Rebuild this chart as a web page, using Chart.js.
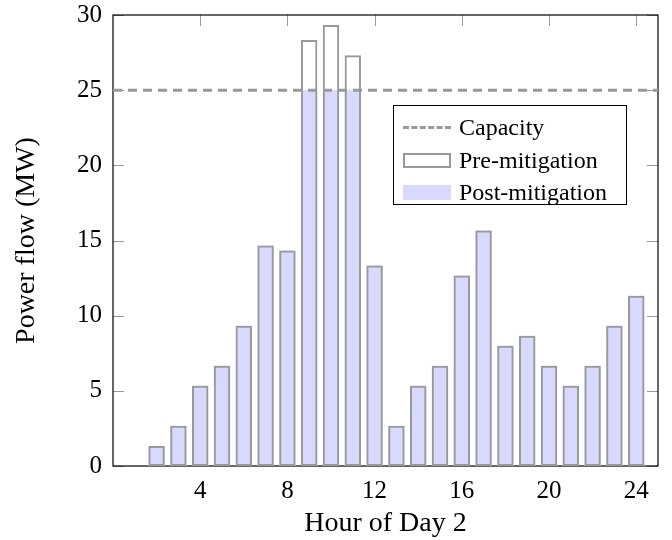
<!DOCTYPE html>
<html>
<head>
<meta charset="utf-8">
<script src="https://cdn.jsdelivr.net/npm/chart.js@4/dist/chart.umd.min.js"></script>
<style>
  html, body { margin: 0; padding: 0; background: #fff; }
  #wrap { position: relative; width: 672px; height: 540px; }
  #legend {
    position: absolute; left: 393px; top: 105px; width: 232px; height: 98px;
    border: 1px solid #000; background: #fff;
    font-family: "Liberation Serif", serif; font-size: 24px; color: #000;
  }
  .row { position: absolute; left: 9px; height: 30px; display: flex; align-items: center; }
  .row span { margin-left: 8px; }
  .dash { width: 48px; height: 0; border-top: 3px dashed #999; }
  .outline { width: 44px; height: 11px; border: 2px solid #999; }
  .fill { width: 48px; height: 15px; background: #d9d9ff; }
</style>
</head>
<body>
<div id="wrap">
  <canvas id="flowChart" width="672" height="540"></canvas>
  <div id="legend">
    <div class="row" style="top:6px"><div class="dash"></div><span>Capacity</span></div>
    <div class="row" style="top:39px"><div class="outline"></div><span>Pre-mitigation</span></div>
    <div class="row" style="top:71px"><div class="fill"></div><span>Post-mitigation</span></div>
  </div>
</div>
<script>
// Hours of day 2
const hours = [1, 2, 3, 4, 5, 6, 7, 8, 9, 10, 11, 12, 13, 14, 15, 16, 17, 18, 19, 20, 21, 22, 23, 24];

// Power flow in MW before and after mitigation
const preMitigation = [0, 1.33, 2.67, 5.33, 6.67, 9.33, 14.67, 14.33, 28.33, 29.33, 27.33, 13.33,
    2.67, 5.33, 6.67, 12.67, 15.67, 8, 8.67, 6.67, 5.33, 6.67, 9.33, 11.33];
const postMitigation = [0, 1.33, 2.67, 5.33, 6.67, 9.33, 14.67, 14.33, 25, 25, 25, 13.33,
    2.67, 5.33, 6.67, 12.67, 15.67, 8, 8.67, 6.67, 5.33, 6.67, 9.33, 11.33];

// Line capacity
const capacity = 25;
const capacityRange = [0, 25];

// Tick labels
const xTicks = [4, 8, 12, 16, 20, 24];
const yTicks = [0, 5, 10, 15, 20, 25, 30];

const serif = '"Liberation Serif", "Times New Roman", serif';

// Box round the plot and small inward ticks on all four sides
const frame = {
    id: 'frame',
    beforeDatasetsDraw(chart) {
        const { ctx, chartArea: a, scales } = chart;
        ctx.save();
        ctx.strokeStyle = '#999';
        ctx.lineWidth = 1;
        yTicks.forEach(function (v) {
            const y = Math.round(scales.y.getPixelForValue(v)) + 0.5;
            ctx.beginPath();
            ctx.moveTo(a.left, y); ctx.lineTo(a.left + 11, y);
            ctx.moveTo(a.right, y); ctx.lineTo(a.right - 11, y);
            ctx.stroke();
        });
        xTicks.forEach(function (v) {
            const x = Math.round(scales.x.getPixelForValue(v)) + 0.5;
            ctx.beginPath();
            ctx.moveTo(x, a.top); ctx.lineTo(x, a.top + 11);
            ctx.moveTo(x, a.bottom); ctx.lineTo(x, a.bottom - 11);
            ctx.stroke();
        });
        ctx.strokeStyle = '#000';
        ctx.lineWidth = 1.2;
        ctx.strokeRect(a.left, a.top, a.right - a.left, a.bottom - a.top);
        ctx.restore();
    }
};

function createFlowChart() {
    const ctx = document.getElementById('flowChart').getContext('2d');
    new Chart(ctx, {
        data: {
            datasets: [
                {
                    type: 'line',
                    label: 'Capacity',
                    data: capacityRange.map(function (x) { return { x: x, y: capacity }; }),
                    borderColor: '#999',
                    borderWidth: 3,
                    borderDash: [9, 6],
                    pointRadius: 0,
                    order: 0,
                },
                {
                    type: 'bar',
                    label: 'Pre-mitigation',
                    data: hours.map(function (h, i) { return { x: h, y: preMitigation[i] }; }),
                    backgroundColor: 'rgba(0,0,0,0)',
                    borderColor: '#999',
                    borderWidth: 2,
                    borderSkipped: false,
                    order: 1,
                },
                {
                    type: 'bar',
                    label: 'Post-mitigation',
                    data: hours.map(function (h, i) { return { x: h, y: postMitigation[i] }; }),
                    backgroundColor: '#d9d9ff',
                    borderWidth: 0,
                    order: 2,
                },
            ],
        },
        options: {
            responsive: false,
            animation: false,
            layout: { padding: { top: 15, right: 14, left: 0, bottom: 0 } },
            datasets: {
                bar: { grouped: false, barPercentage: 0.75, categoryPercentage: 1 },
            },
            plugins: { legend: { display: false }, tooltip: { enabled: false } },
            scales: {
                x: {
                    type: 'linear',
                    min: 0,
                    max: 25,
                    offset: false,
                    afterBuildTicks: function (scale) {
                        scale.ticks = xTicks.map(function (v) { return { value: v }; });
                    },
                    afterFit: function (scale) {
                        scale.height = 74;
                        scale.paddingLeft = 0;
                        scale.paddingRight = 0;
                    },
                    grid: { display: false, drawTicks: false },
                    border: { display: false },
                    ticks: {
                        color: '#000', padding: 10, maxRotation: 0,
                        font: { family: serif, size: 25 },
                    },
                    title: {
                        display: true, text: 'Hour of Day 2', color: '#000',
                        padding: { top: 0, bottom: 0 },
                        font: { family: serif, size: 28 },
                    },
                },
                y: {
                    min: 0,
                    max: 30,
                    afterBuildTicks: function (scale) {
                        scale.ticks = yTicks.map(function (v) { return { value: v }; });
                    },
                    afterFit: function (scale) {
                        scale.width = 113;
                        scale.paddingTop = 0;
                        scale.paddingBottom = 0;
                    },
                    grid: { display: false, drawTicks: false },
                    border: { display: false },
                    ticks: {
                        color: '#000', padding: 11,
                        font: { family: serif, size: 25 },
                    },
                    title: {
                        display: true, text: 'Power flow (MW)', color: '#000',
                        padding: { top: 10, bottom: 0 },
                        font: { family: serif, size: 28 },
                    },
                },
            },
        },
        plugins: [frame],
    });
}

document.addEventListener('DOMContentLoaded', function () {
    createFlowChart();
});
</script>
</body>
</html>
